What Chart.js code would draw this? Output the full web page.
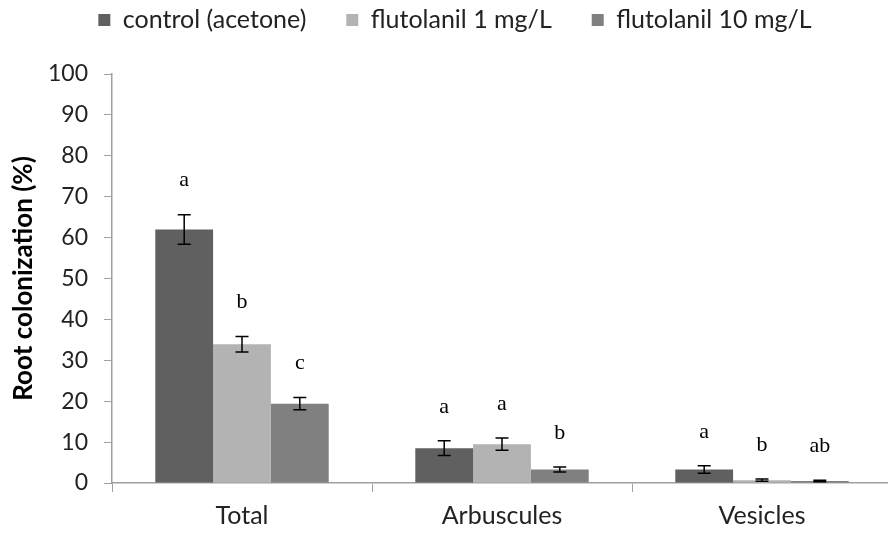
<!DOCTYPE html>
<html>
<head>
<meta charset="utf-8">
<script src="https://cdn.jsdelivr.net/npm/chart.js@4"></script>
<style>
    html, body { margin: 0; padding: 0; background: #fff; overflow: hidden; }
    #wrap { width: 892px; height: 535px; }
</style>
</head>
<body>
<div id="wrap"><canvas id="graficoColonizacao"></canvas></div>
<script>
// colonization values (%) and standard errors
var categorias = ["Total", "Arbuscules", "Vesicles"];
var controle = [62.0, 8.5, 3.3];
var controleErro = [3.6, 1.8, 0.9];
var flutolanil1 = [33.9, 9.5, 0.7];
var flutolanil1Erro = [1.9, 1.5, 0.3];
var flutolanil10 = [19.4, 3.3, 0.5];
var flutolanil10Erro = [1.5, 0.6, 0.2];
var letrasControle = ["a", "a", "a"];
var letrasFlut1 = ["b", "a", "b"];
var letrasFlut10 = ["c", "b", "ab"];
var ticksY = [0, 10, 20, 30, 40, 50, 60, 70, 80, 90, 100];

var erros = [controleErro, flutolanil1Erro, flutolanil10Erro];
var letras = [letrasControle, letrasFlut1, letrasFlut10];

var LEGENDA_ALTURA = 74;   // space reserved above the plot
var LEGENDA_CENTRO = 20;   // vertical center of the legend row
var LEGENDA_DESLOC = 9;    // small shift to the right
var LEGENDA_FONTE = 25;
var LEGENDA_ESPACO = 40;

// legend: keep wide gaps between items but sit close to the top edge
var ajusteLegenda = {
    id: "ajusteLegenda",
    beforeLayout: function (chart) {
        var lg = chart.legend;
        if (lg && !lg._ajustado) {
            var fitOriginal = lg.fit;
            lg.fit = function () {
                fitOriginal.call(this);
                this.height = LEGENDA_ALTURA;
            };
            lg._ajustado = true;
        }
    },
    afterLayout: function (chart) {
        var lg = chart.legend;
        if (lg) {
            lg.top = LEGENDA_CENTRO - LEGENDA_ESPACO - LEGENDA_FONTE / 2;
            lg.bottom = lg.top + lg.height;
            lg.left = LEGENDA_DESLOC;
            lg.right = lg.left + lg.width;
        }
    }
};

// draws error bars and significance letters over each bar
var barrasDeErro = {
    id: "barrasDeErro",
    afterDatasetsDraw: function (chart) {
        var ctx = chart.ctx;
        var y = chart.scales.y;
        ctx.save();
        chart.data.datasets.forEach(function (ds, i) {
            var meta = chart.getDatasetMeta(i);
            meta.data.forEach(function (bar, j) {
                var v = ds.data[j];
                var e = erros[i][j];
                var yTop = y.getPixelForValue(v + e);
                var yBot = y.getPixelForValue(v - e);
                ctx.strokeStyle = "#000";
                ctx.lineWidth = 1.5;
                ctx.beginPath();
                ctx.moveTo(bar.x, yTop);
                ctx.lineTo(bar.x, yBot);
                ctx.moveTo(bar.x - 6.5, yTop);
                ctx.lineTo(bar.x + 6.5, yTop);
                ctx.moveTo(bar.x - 6.5, yBot);
                ctx.lineTo(bar.x + 6.5, yBot);
                ctx.stroke();

                ctx.fillStyle = "#000";
                ctx.font = "22px 'Liberation Serif'";
                ctx.textAlign = "center";
                ctx.textBaseline = "middle";
                ctx.fillText(letras[i][j], bar.x, yTop - 34);
            });
        });
        ctx.restore();
    }
};

var ctx = document.getElementById("graficoColonizacao").getContext("2d");

new Chart(ctx, {
    type: "bar",
    data: {
        labels: categorias,
        datasets: [
            { label: "control (acetone)", data: controle, backgroundColor: "#606060" },
            { label: "flutolanil 1 mg/L", data: flutolanil1, backgroundColor: "#b3b3b3" },
            { label: "flutolanil 10 mg/L", data: flutolanil10, backgroundColor: "#808080" }
        ]
    },
    options: {
        responsive: true,
        maintainAspectRatio: false,
        animation: false,
        layout: { padding: 0 },
        datasets: {
            bar: { categoryPercentage: 0.667, barPercentage: 1.0 }
        },
        plugins: {
            legend: {
                position: "top",
                labels: {
                    font: { family: "Lato", size: LEGENDA_FONTE },
                    color: "#222",
                    boxWidth: 12,
                    boxHeight: 12,
                    padding: LEGENDA_ESPACO
                }
            },
            tooltip: { enabled: false }
        },
        scales: {
            x: {
                afterFit: function (scale) { scale.height = 52; },
                grid: {
                    offset: true,
                    drawOnChartArea: false,
                    tickLength: 9,
                    color: "#a0a0a0"
                },
                border: { color: "#a0a0a0", width: 1.5 },
                ticks: {
                    font: { family: "Lato", size: 25 },
                    color: "#222",
                    padding: 9
                }
            },
            y: {
                min: 0,
                max: 100,
                afterFit: function (scale) { scale.width = 112; },
                afterBuildTicks: function (scale) {
                    scale.ticks = ticksY.map(function (v) { return { value: v }; });
                },
                grid: {
                    drawOnChartArea: false,
                    tickLength: 8,
                    color: "#a0a0a0"
                },
                border: { color: "#a0a0a0", width: 1.5 },
                ticks: {
                    font: { family: "Lato", size: 23 },
                    color: "#222",
                    padding: 16
                },
                title: {
                    display: true,
                    text: "Root colonization (%)",
                    font: { family: "Lato", size: 26, weight: "bold" },
                    color: "#000",
                    padding: { top: 8, bottom: 0 }
                }
            }
        }
    },
    plugins: [ajusteLegenda, barrasDeErro]
});
</script>
</body>
</html>
